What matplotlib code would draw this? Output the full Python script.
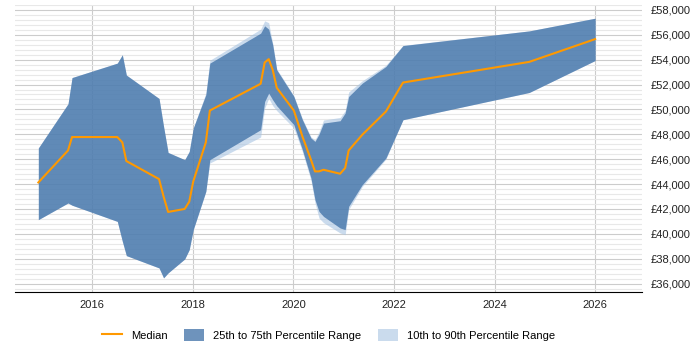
import numpy as np
import matplotlib.pyplot as plt
from matplotlib.ticker import FuncFormatter, MultipleLocator

plt.rcParams['font.family'] = ['Liberation Sans', 'DejaVu Sans']

# Dates as decimal years
years = [2014.93, 2015.52, 2015.60, 2016.50, 2016.60, 2016.68, 2017.33, 2017.42,
         2017.51, 2017.84, 2017.93, 2018.01, 2018.26, 2018.34, 2019.35, 2019.43,
         2019.51, 2019.59, 2019.67, 2020.01, 2020.18, 2020.35, 2020.43, 2020.51,
         2020.60, 2020.93, 2021.03, 2021.10, 2021.37, 2021.84, 2022.18, 2024.69,
         2026.00]

median = [44130, 46700, 47780, 47780, 47350, 45850, 44400, 43000,
          41760, 42000, 42580, 44210, 47350, 49910, 52060, 53770,
          54040, 53180, 51740, 49910, 47830, 45960, 45020, 45020,
          45150, 44830, 45290, 46700, 47960, 49830, 52160, 53820,
          55650]

p25 = [41140, 42480, 42300, 41000, 39400, 38250, 37260, 36460,
       36860, 37980, 38730, 40340, 43410, 45960, 48370, 50640,
       51310, 50770, 50290, 48770, 46760, 44490, 42740, 41800,
       41400, 40470, 40340, 42210, 43950, 46090, 49170, 51360,
       53930]

p75 = [46900, 50450, 52560, 53720, 54390, 52760, 50880, 48630,
       46540, 45960, 46620, 48500, 51180, 53720, 56130, 56720,
       56450, 55190, 53180, 51040, 49170, 47700, 47430, 48000,
       48900, 49090, 49710, 51040, 52110, 53450, 55130, 56310,
       57330]

p10 = [41140, 42480, 42300, 41000, 39400, 38250, 37260, 36460,
       36860, 37980, 38730, 40340, 43410, 45690, 47780, 50100,
       50900, 50300, 49900, 48500, 46600, 44300, 42500, 41270,
       40900, 40070, 39930, 41950, 43800, 46000, 49170, 51360,
       53930]

p90 = [46900, 50450, 52560, 53720, 54390, 52760, 50880, 48630,
       46540, 45960, 46620, 48500, 51300, 53950, 56450, 57120,
       56970, 55300, 53250, 51100, 49250, 47800, 47550, 48200,
       49150, 49350, 49900, 51400, 52300, 53550, 55150, 56310,
       57330]

fig, ax = plt.subplots(figsize=(7, 3.5), dpi=100)
fig.subplots_adjust(left=0.021, right=0.917, bottom=0.166, top=0.986)

ax.fill_between(years, p10, p90, color='#a8c4e2', alpha=0.6, linewidth=0,
                label='10th to 90th Percentile Range', zorder=2)
ax.fill_between(years, p25, p75, color='#3d6fa6', alpha=0.75, linewidth=0,
                label='25th to 75th Percentile Range', zorder=3)
ax.plot(years, median, color='#ff9900', linewidth=1.5, label='Median', zorder=4)

ax.set_xlim(2014.46, 2026.93)
ax.set_ylim(35333, 58400)
ax.set_xticks([2016, 2018, 2020, 2022, 2024, 2026])
ax.yaxis.set_major_locator(MultipleLocator(2000))
ax.yaxis.set_minor_locator(MultipleLocator(400))
ax.yaxis.set_major_formatter(FuncFormatter(lambda v, p: f'£{int(v):,}'))
ax.yaxis.tick_right()

ax.grid(True, which='major', axis='both', color='#cccccc', linewidth=0.8, zorder=0)
ax.grid(True, which='minor', axis='y', color='#e8e8e8', linewidth=0.8, zorder=0)
ax.set_axisbelow(True)

for s in ['top', 'left', 'right']:
    ax.spines[s].set_visible(False)
ax.spines['bottom'].set_color('#000000')
ax.tick_params(axis='both', which='both', length=0, labelsize=8, colors='#222222')
ax.tick_params(axis='y', pad=6)
ax.tick_params(axis='x', pad=6)

handles, labels = ax.get_legend_handles_labels()
order = [2, 1, 0]
ax.legend([handles[i] for i in order], [labels[i] for i in order],
          loc='upper center', bbox_to_anchor=(0.5, -0.095), ncol=3, frameon=False,
          fontsize=8, handlelength=1.8, handleheight=1.2, columnspacing=1.5)

plt.savefig('out.png', dpi=100)
